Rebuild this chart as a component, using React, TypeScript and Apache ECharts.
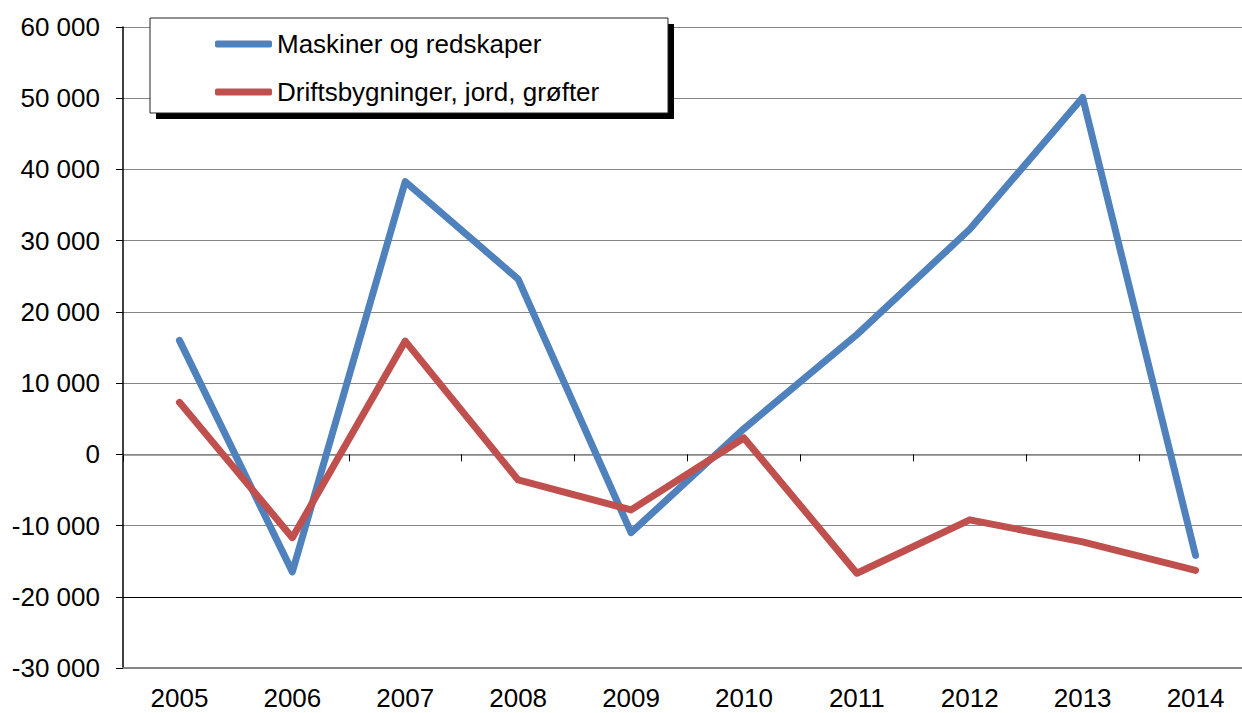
import React, { useEffect, useRef } from "react";
import * as echarts from "echarts";

const years = ["2005", "2006", "2007", "2008", "2009", "2010", "2011", "2012", "2013", "2014"];
const maskiner = [16000, -16500, 38300, 24600, -11000, 3600, 16800, 31600, 50100, -14200];
const drift = [7300, -11700, 15900, -3600, -7800, 2300, -16700, -9200, -12300, -16300];
const seriesNames = ["Maskiner og redskaper", "Driftsbygninger, jord, grøfter"];

const FONT = "'Liberation Sans', Arial, sans-serif";

const fmt = (v: number) => {
  const s = Math.abs(v).toString().replace(/\B(?=(\d{3})+(?!\d))/g, " ");
  return (v < 0 ? "-" : "") + s;
};

export default function App() {
  const ref = useRef<HTMLDivElement>(null);
  useEffect(() => {
    if (!ref.current) return;
    const chart = echarts.init(ref.current, undefined, { renderer: "svg" });
    const gray = "#868686";
    const splitColors = [gray, "#000000", gray, gray, gray, gray, gray, gray, gray, gray];
    chart.setOption({
      animation: false,
      backgroundColor: "#ffffff",
      textStyle: { fontFamily: FONT },
      grid: { left: 123, top: 27, right: 0, bottom: 45, containLabel: false },
      legend: {
        data: seriesNames,
        orient: "vertical",
        left: 210,
        top: 26,
        itemWidth: 57,
        itemHeight: 7,
        itemGap: 22,
        icon: "roundRect",
        z: 4,
        textStyle: { fontSize: 26, color: "#000", fontFamily: FONT },
      },
      graphic: [
        { type: "rect", z: 3, shape: { x: 156, y: 24, width: 518, height: 95 }, style: { fill: "#000" } },
        { type: "rect", z: 3, shape: { x: 150, y: 18, width: 518, height: 95 }, style: { fill: "#fff", stroke: "#222", lineWidth: 1 } },
      ],
      xAxis: [
        {
          type: "category",
          data: years,
          boundaryGap: true,
          position: "bottom",
          axisLine: { onZero: true, lineStyle: { color: gray, width: 1.5 } },
          axisTick: { show: true, length: 7, interval: 0, lineStyle: { color: "#000", width: 1 } },
          axisLabel: { show: false },
          splitLine: { show: false },
        },
        {
          type: "category",
          data: years,
          boundaryGap: true,
          position: "bottom",
          axisLine: { show: true, onZero: false, lineStyle: { color: gray, width: 2 } },
          axisTick: { show: false },
          axisLabel: { show: true, fontSize: 26, color: "#000", margin: 17, fontFamily: FONT, interval: 0 },
          splitLine: { show: false },
        },
      ],
      yAxis: {
        type: "value",
        min: -30000,
        max: 60000,
        interval: 10000,
        axisLine: { show: true, lineStyle: { color: "#000", width: 1.5 } },
        axisTick: { show: true, length: 7, lineStyle: { color: "#000" } },
        axisLabel: { fontSize: 26, color: "#000", margin: 23, formatter: fmt, fontFamily: FONT },
        splitLine: { show: true, lineStyle: { color: splitColors, width: 1.2 } },
      },
      series: [
        {
          name: seriesNames[0],
          type: "line",
          data: maskiner,
          xAxisIndex: 0,
          symbol: "none",
          color: "#4F81BD",
          lineStyle: { width: 7, color: "#4F81BD", cap: "round", join: "round" },
          z: 2,
        },
        {
          name: seriesNames[1],
          type: "line",
          data: drift,
          xAxisIndex: 0,
          symbol: "none",
          color: "#C0504D",
          lineStyle: { width: 7, color: "#C0504D", cap: "round", join: "round" },
          z: 2,
        },
      ],
    });
    return () => chart.dispose();
  }, []);
  return (
    <div
      ref={ref}
      style={{ position: "fixed", left: 0, top: 0, width: 1252, height: 713, background: "#fff" }}
    />
  );
}
